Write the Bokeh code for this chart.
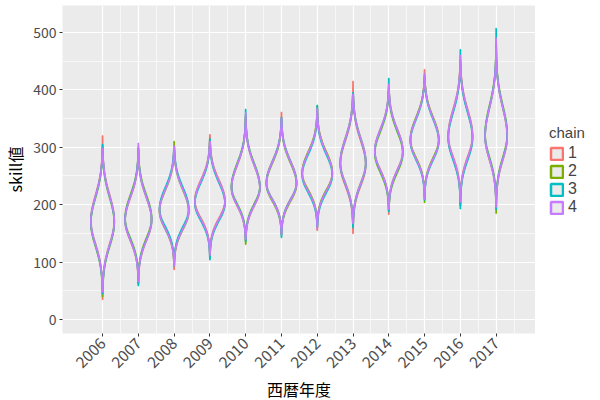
import numpy as np
from math import pi
from bokeh.plotting import figure
from bokeh.layouts import row
from bokeh.models import Range1d, FixedTicker, Legend, LegendItem
from bokeh.embed import file_html
from bokeh.resources import INLINE

# ---------------- data ----------------
years = [2006, 2007, 2008, 2009, 2010, 2011, 2012, 2013, 2014, 2015, 2016, 2017]
chains = ["1", "2", "3", "4"]
chain_colors = ["#F8766D", "#7CAE00", "#00BFC4", "#C77CFF"]

# posterior mode (widest point) and spread below / above it, per year
centre = [170, 174, 190, 204, 230, 237, 254, 272, 292, 312, 318, 320]
sd_low = [41, 35, 31, 30, 30, 29, 30, 36, 33, 32, 37, 40]
sd_high = [44, 40, 37, 36, 40, 37, 36, 42, 38, 38, 45, 50]

# small per-chain shifts of the mode
shift_1 = [3, -2, 1, 3, -2, 2, 1, -3, 2, 1, 3, -2]
shift_2 = [-2, 3, -2, 0, 2, -2, 2, 2, -3, 2, -1, 3]
shift_3 = [0, 0, 3, -2, 0, 1, -3, 0, 0, -2, -3, 0]
shift_4 = [1, -1, -1, 1, -1, 0, 0, 1, 1, 0, 1, -1]

# per-chain minimum / maximum of the samples (violin is trimmed there)
lo_1 = [35, 64, 87, 110, 138, 150, 155, 150, 183, 212, 200, 195]
lo_2 = [40, 62, 92, 108, 131, 147, 160, 165, 190, 204, 198, 185]
lo_3 = [45, 59, 95, 104, 136, 143, 162, 160, 188, 208, 193, 192]
lo_4 = [48, 66, 93, 112, 140, 148, 158, 168, 192, 210, 205, 196]

hi_1 = [320, 295, 300, 322, 352, 361, 366, 415, 405, 435, 452, 470]
hi_2 = [300, 298, 310, 312, 356, 348, 372, 390, 398, 425, 445, 480]
hi_3 = [305, 300, 296, 315, 366, 352, 373, 395, 420, 420, 470, 507]
hi_4 = [298, 307, 302, 310, 360, 350, 368, 392, 410, 428, 460, 490]

y_ticks = [0, 100, 200, 300, 400, 500]
y_minor = [50, 150, 250, 350, 450]

shifts = [shift_1, shift_2, shift_3, shift_4]
los = [lo_1, lo_2, lo_3, lo_4]
his = [hi_1, hi_2, hi_3, hi_4]

FONT = "Noto Sans CJK JP"
LFONT = "Liberation Sans"

p = figure(frame_width=473, frame_height=328,
           min_border_left=49, min_border_right=0, min_border_top=5, min_border_bottom=62,
           x_range=Range1d(2004.88, 2018.1), y_range=Range1d(-24.4, 547),
           output_backend="svg", toolbar_location=None,
           background_fill_color="#EBEBEB", border_fill_color="white")
p.outline_line_color = None

# violin outlines (split-normal density, area scaled, width 0.9)
peak = [2.0 / (np.sqrt(2 * np.pi) * (a + b)) for a, b in zip(sd_low, sd_high)]
scale = 0.42 / max(peak)

for ci, (ch, col) in enumerate(zip(chains, chain_colors)):
    xs, ys = [], []
    for i, yr in enumerate(years):
        c = centre[i] + shifts[ci][i]
        grid = np.linspace(los[ci][i], his[ci][i], 160)
        s = np.where(grid < c, sd_low[i], sd_high[i])
        hw = scale * 2.0 / (np.sqrt(2 * np.pi) * (sd_low[i] + sd_high[i])) * np.exp(-0.5 * ((grid - c) / s) ** 2)
        xs.append(list(yr + hw) + list((yr - hw)[::-1]))
        ys.append(list(grid) + list(grid[::-1]))
    p.patches(xs=xs, ys=ys, fill_alpha=0, line_color=col, line_width=1.7)

# axes
p.xaxis.ticker = FixedTicker(ticks=years, minor_ticks=[y + 0.5 for y in [2004] + years])
p.yaxis.ticker = FixedTicker(ticks=y_ticks, minor_ticks=y_minor)
p.xaxis.major_label_orientation = pi / 4
p.xaxis.axis_label = "西暦年度"
p.yaxis.axis_label = "skill値"
for ax in (p.xaxis[0], p.yaxis[0]):
    ax.axis_line_color = None
    ax.major_tick_line_color = "#333333"
    ax.major_tick_in = 0
    ax.major_tick_out = 3
    ax.minor_tick_line_color = None
    ax.major_label_text_font = FONT
    ax.major_label_text_font_size = "14px"
    ax.major_label_text_color = "#4D4D4D"
    ax.major_label_standoff = 2
    ax.axis_label_text_font = FONT
    ax.axis_label_text_font_size = "16px"
    ax.axis_label_text_font_style = "normal"
    ax.axis_label_text_color = "black"
    ax.axis_label_standoff = 3
p.xaxis.major_label_text_font_size = "15.5px"
p.xaxis.major_label_standoff = 3
p.xaxis.axis_label_standoff = 1

for g in (p.xgrid[0], p.ygrid[0]):
    g.grid_line_color = "white"
    g.grid_line_width = 1.2
    g.minor_grid_line_color = "white"
    g.minor_grid_line_width = 0.6

# legend in a narrow companion figure to the right of the panel
pl = figure(width=62, height=395, min_border=0, x_range=Range1d(0, 1), y_range=Range1d(0, 1),
            output_backend="svg", toolbar_location=None,
            background_fill_color="white", border_fill_color="white")
pl.outline_line_color = None
pl.axis.visible = False
pl.grid.visible = False

items = []
for ch, col in zip(chains, chain_colors):
    # key glyph only: its single point lies outside the visible range
    r = pl.rect(x=[-5], y=[-5], width=0.1, height=0.1, fill_color="#EBEBEB",
                line_color=col, line_width=2.5)
    items.append(LegendItem(label=ch, renderers=[r]))

legend = Legend(items=items, location=(14, 108), title="chain",
                title_text_font=LFONT, title_text_font_size="15px", title_text_font_style="normal",
                label_text_font=LFONT, label_text_font_size="16px",
                glyph_width=15, glyph_height=15, label_height=17, label_width=12, spacing=0,
                label_standoff=4, padding=0, margin=0, title_standoff=3,
                border_line_color=None, background_fill_alpha=0)
pl.add_layout(legend)

layout = row(p, pl)
open("out.html", "w").write(file_html(layout, INLINE))
